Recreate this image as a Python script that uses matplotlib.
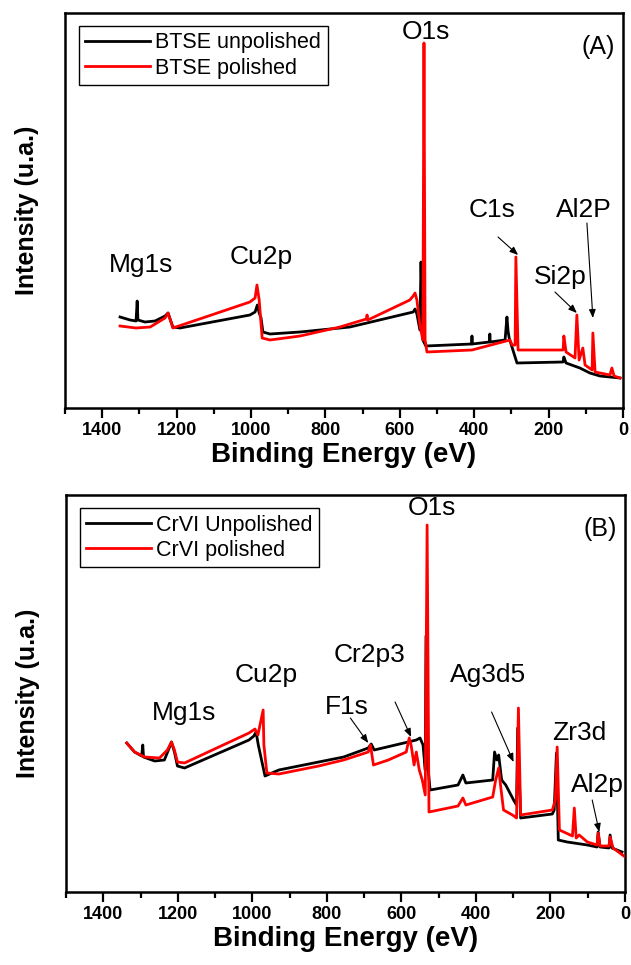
import matplotlib
matplotlib.use("Agg")
import matplotlib.pyplot as plt
from matplotlib.ticker import MultipleLocator, NullLocator

plt.rcParams["font.family"] = ["Liberation Sans", "DejaVu Sans"]

# ---------------- Panel A: BTSE survey spectra ----------------
btse_unpol_E = [1352, 1325, 1309, 1306, 1304, 1285, 1258, 1231, 1223, 1210, 1191,
                1003, 989, 983, 978, 973, 968, 949, 868, 734, 564, 559, 554, 546,
                543, 538, 530, 407, 406, 405, 359, 358, 357, 317, 312, 309, 306,
                285, 161, 159, 153, 116, 89, 62, 8]
btse_unpol_I = [84, 81, 80, 100, 81, 79, 80, 85, 88, 74, 73,
                86, 89, 96, 88, 83, 69, 67, 69, 74, 89, 92, 87, 71,
                139, 61, 55, 57, 65, 57, 59, 67, 59, 61, 84, 70, 63,
                38, 39, 44, 38, 33, 28, 25, 23]

btse_pol_E = [1352, 1309, 1271, 1231, 1223, 1210, 1003, 989, 984, 978, 970, 949,
              868, 761, 690, 688, 686, 573, 564, 559, 554, 546, 538, 535, 532,
              527, 406, 304, 298, 290, 288, 282, 161, 159, 153, 129, 124, 118,
              108, 102, 83, 81, 75, 35, 30, 24, 8]
btse_pol_I = [75, 73, 74, 83, 88, 73, 99, 103, 116, 101, 63, 61,
              65, 74, 82, 86, 81, 101, 105, 108, 101, 76, 61, 358, 61,
              49, 51, 61, 56, 56, 144, 51, 51, 65, 49, 43, 86, 41,
              53, 36, 31, 68, 29, 26, 33, 25, 23]

# ---------------- Panel B: CrVI survey spectra ----------------
crvi_unpol_E = [1337, 1316, 1297, 1294, 1292, 1262, 1236, 1223, 1217, 1209, 1201,
                1182, 1009, 996, 990, 984, 966, 929, 822, 755, 689, 681, 673,
                582, 560, 550, 542, 536, 534, 528, 523, 448, 435, 427, 355, 350,
                344, 339, 331, 320, 299, 291, 288, 280, 195, 190, 184, 179, 155,
                101, 75, 72, 67, 43, 40, 35, 8]
crvi_unpol_I = [149, 140, 136, 147, 135, 131, 132, 144, 150, 140, 126,
                124, 152, 156, 160, 147, 116, 122, 130, 135, 144, 148, 142,
                150, 152, 154, 147, 122, 256, 122, 102, 107, 117, 109, 112, 140,
                132, 137, 112, 107, 92, 87, 164, 74, 78, 82, 139, 52, 50,
                47, 45, 60, 45, 44, 57, 44, 40]

crvi_pol_E = [1337, 1316, 1289, 1249, 1228, 1217, 1209, 1201, 1182, 1009, 993,
              985, 971, 969, 961, 929, 822, 755, 689, 683, 675, 635, 587, 579,
              574, 566, 560, 552, 544, 536, 531, 526, 448, 435, 427, 355, 347,
              339, 334, 326, 302, 291, 286, 280, 195, 187, 182, 176, 141, 136,
              131, 123, 101, 75, 72, 67, 43, 40, 32, 3]
crvi_pol_I = [149, 140, 135, 134, 142, 150, 142, 130, 129, 159, 163,
              157, 182, 147, 119, 118, 126, 132, 140, 147, 127, 132, 140, 154,
              147, 127, 140, 122, 112, 97, 367, 80, 86, 94, 87, 95, 112,
              124, 107, 82, 77, 74, 184, 77, 82, 92, 145, 62, 56, 84,
              54, 57, 50, 47, 59, 46, 46, 55, 44, 36]

# Peak labels: (text, label position) and optional arrows (start -> tip)
labels_a = [("Mg1s", 1296, 136), ("Cu2p", 973, 144), ("O1s", 530, 369),
            ("C1s", 352, 191), ("Si2p", 169, 124), ("Al2P", 105, 191)]
arrows_a = [((336, 164), (282, 146)), ((183, 109), (124, 88)), ((97, 178), (81, 83))]

labels_b = [("Mg1s", 1182, 179), ("Cu2p", 963, 217), ("Cr2p3", 686, 237),
            ("F1s", 747, 185), ("O1s", 518, 384), ("Ag3d5", 368, 217),
            ("Zr3d", 123, 159), ("Al2p", 75, 107)]
arrows_b = [((737, 174), (689, 149)), ((617, 190), (574, 155)),
            ((358, 180), (299, 130)), ((88, 92), (69, 60))]

fig = plt.figure(figsize=(6.31, 9.65), dpi=100)
W, H = 631, 965


def px_axes(l, t, r, b):
    return fig.add_axes([l / W, 1 - b / H, (r - l) / W, (b - t) / H])


ax_a = px_axes(65, 13, 623, 408)
ax_b = px_axes(66, 495, 625, 892)


def style(ax, ylim):
    ax.set_xlim(1500, 0)
    ax.set_ylim(*ylim)
    ax.xaxis.set_major_locator(MultipleLocator(200))
    ax.xaxis.set_minor_locator(MultipleLocator(100))
    ax.yaxis.set_major_locator(NullLocator())
    ax.tick_params(axis="x", which="major", direction="out", length=7, width=1.6,
                   labelsize=13, pad=3)
    ax.tick_params(axis="x", which="minor", direction="out", length=4, width=1.6)
    for lab in ax.get_xticklabels():
        lab.set_fontweight("bold")
    for sp in ax.spines.values():
        sp.set_linewidth(1.8)
    ax.set_xlabel("Binding Energy (eV)", fontsize=20, fontweight="bold", labelpad=2)
    ax.set_ylabel("Intensity (u.a.)", fontsize=18, fontweight="bold", labelpad=19)


def draw(ax, E1, I1, E2, I2, names, labels, arrows, tag):
    ax.plot(E1, I1, color="black", lw=2.0, label=names[0], zorder=2)
    ax.plot(E2, I2, color="#ff0000", lw=2.0, label=names[1], zorder=3)
    for txt, x, y in labels:
        ax.text(x, y, txt, fontsize=19, ha="center", va="center", zorder=5)
    for (x0, y0), (x1, y1) in arrows:
        ax.annotate("", xy=(x1, y1), xytext=(x0, y0),
                    arrowprops=dict(arrowstyle="-|>,head_length=0.5,head_width=0.2",
                                    color="black", lw=0.8, shrinkA=0, shrinkB=0),
                    zorder=6)
    ax.text(0.955, 0.915, tag, transform=ax.transAxes, fontsize=18,
            ha="center", va="center")
    leg = ax.legend(loc="upper left", bbox_to_anchor=(0.025, 0.967), fontsize=15.5,
                    frameon=True, fancybox=False, framealpha=1, edgecolor="black",
                    handlelength=3.0, handletextpad=0.25, borderpad=0.3,
                    labelspacing=0.2, borderaxespad=0)
    leg.get_frame().set_linewidth(1.0)


draw(ax_a, btse_unpol_E, btse_unpol_I, btse_pol_E, btse_pol_I,
     ("BTSE unpolished", "BTSE polished"), labels_a, arrows_a, "(A)")
draw(ax_b, crvi_unpol_E, crvi_unpol_I, crvi_pol_E, crvi_pol_I,
     ("CrVI Unpolished", "CrVI polished"), labels_b, arrows_b, "(B)")

style(ax_a, (-7, 388))
style(ax_b, (0, 397))

fig.savefig("out.png", dpi=100)
